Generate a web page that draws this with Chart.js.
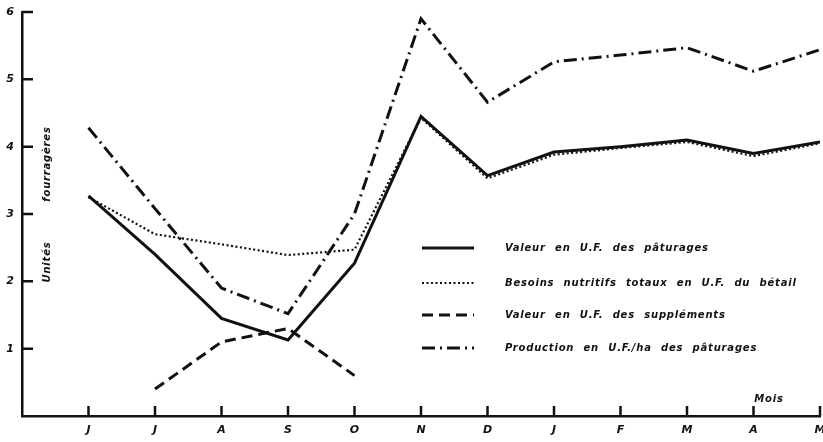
<!DOCTYPE html>
<html>
<head>
<meta charset="utf-8">
<script src="https://cdn.jsdelivr.net/npm/chart.js@4/dist/chart.umd.min.js"></script>
<style>
html, body { margin: 0; padding: 0; background: #fff; }
#wrap { width: 823px; height: 442px; }
</style>
</head>
<body>
<div id="wrap"><canvas id="chart"></canvas></div>
<script>
const months = ['J', 'J', 'A', 'S', 'O', 'N', 'D', 'J', 'F', 'M', 'A', 'M']
const yTicks = [1, 2, 3, 4, 5, 6]

const paturages = [3.27, 2.4, 1.45, 1.13, 2.27, 4.45, 3.57, 3.92, 4.0, 4.1, 3.9, 4.07]
const besoins = [3.25, 2.7, 2.55, 2.39, 2.47, 4.43, 3.53, 3.88, 3.98, 4.07, 3.86, 4.05]
const supplements = [null, 0.4, 1.1, 1.3, 0.6, null, null, null, null, null, null, null]
const production = [4.28, 3.08, 1.9, 1.52, 3.0, 5.9, 4.66, 5.26, 5.36, 5.47, 5.12, 5.44]

const labels = [
    'Valeur en U.F. des pâturages',
    'Besoins nutritifs totaux en U.F. du bétail',
    'Valeur en U.F. des suppléments',
    'Production en U.F./ha des pâturages',
]

const ink = '#111'
const tickFont = {family: 'DejaVu Sans', size: 11, style: 'italic', weight: 'bold'}

const toPoints = arr => arr.map((v, i) => ({x: i, y: v}))

const dsStyle = [
    {borderWidth: 3, borderDash: []},
    {borderWidth: 2.2, borderDash: [2, 2.5]},
    {borderWidth: 3, borderDash: [11, 6]},
    {borderWidth: 3, borderDash: [13, 5, 2, 5]},
]

const series = [paturages, besoins, supplements, production]

// inward ticks, legend and axis titles drawn on the canvas
const extras = {
    id: 'extras',
    afterDraw(chart) {
        const {ctx, chartArea, scales} = chart
        ctx.save()
        ctx.strokeStyle = ink
        ctx.lineWidth = 2.5
        ctx.beginPath()
        yTicks.forEach(v => {
            const y = scales.y.getPixelForValue(v)
            ctx.moveTo(chartArea.left, y)
            ctx.lineTo(chartArea.left + 11, y)
        })
        months.forEach((m, i) => {
            const x = scales.x.getPixelForValue(i)
            ctx.moveTo(x, chartArea.bottom)
            ctx.lineTo(x, chartArea.bottom - 10)
        })
        ctx.stroke()

        // legend
        ctx.font = 'italic bold 10px "DejaVu Sans"'
        ctx.fillStyle = ink
        ctx.textBaseline = 'middle'
        ctx.letterSpacing = '0.8px'
        ctx.wordSpacing = '5px'
        const rows = [248, 283, 315, 348]
        rows.forEach((y, i) => {
            ctx.setLineDash(dsStyle[i].borderDash)
            ctx.lineWidth = dsStyle[i].borderWidth
            ctx.beginPath()
            ctx.moveTo(422, y)
            ctx.lineTo(474, y)
            ctx.stroke()
            ctx.setLineDash([])
            ctx.fillText(labels[i], 505, y)
        })

        // axis titles
        ctx.textAlign = 'center'
        ctx.fillText('Mois', 769, 399)
        ctx.translate(47, 0)
        ctx.rotate(-Math.PI / 2)
        ctx.fillText('Unités', -262, 0)
        ctx.fillText('fourragères', -164, 0)
        ctx.restore()
    }
}

new Chart(document.getElementById('chart'), {
    type: 'line',
    data: {
        datasets: series.map((s, i) => ({
            label: labels[i],
            data: toPoints(s),
            borderColor: ink,
            borderWidth: dsStyle[i].borderWidth,
            borderDash: dsStyle[i].borderDash,
            pointRadius: 0,
            tension: 0,
            fill: false,
            spanGaps: false,
        })),
    },
    options: {
        responsive: true,
        maintainAspectRatio: false,
        animation: false,
        layout: {padding: {left: 4, right: 3, top: 12, bottom: 2}},
        plugins: {
            legend: {display: false},
            tooltip: {enabled: false},
        },
        scales: {
            x: {
                type: 'linear',
                min: -1,
                max: 11,
                grid: {display: false, drawTicks: false, tickLength: 0},
                border: {display: true, color: ink, width: 2.5},
                afterFit(scale) {
                    scale.height = 24
                    scale.paddingLeft = 0
                    scale.paddingRight = 0
                },
                ticks: {
                    stepSize: 1,
                    autoSkip: false,
                    maxRotation: 0,
                    padding: 8,
                    color: ink,
                    font: tickFont,
                    callback: v => months[v] ?? '',
                },
            },
            y: {
                min: 0,
                max: 6,
                grid: {display: false, drawTicks: false, tickLength: 0},
                border: {display: true, color: ink, width: 2.5},
                afterFit(scale) {
                    scale.width = 18
                    scale.paddingTop = 0
                    scale.paddingBottom = 0
                },
                ticks: {
                    stepSize: 1,
                    padding: 8,
                    color: ink,
                    font: tickFont,
                    callback: v => (v === 0 ? '' : v),
                },
            },
        },
    },
    plugins: [extras],
})
</script>
</body>
</html>
